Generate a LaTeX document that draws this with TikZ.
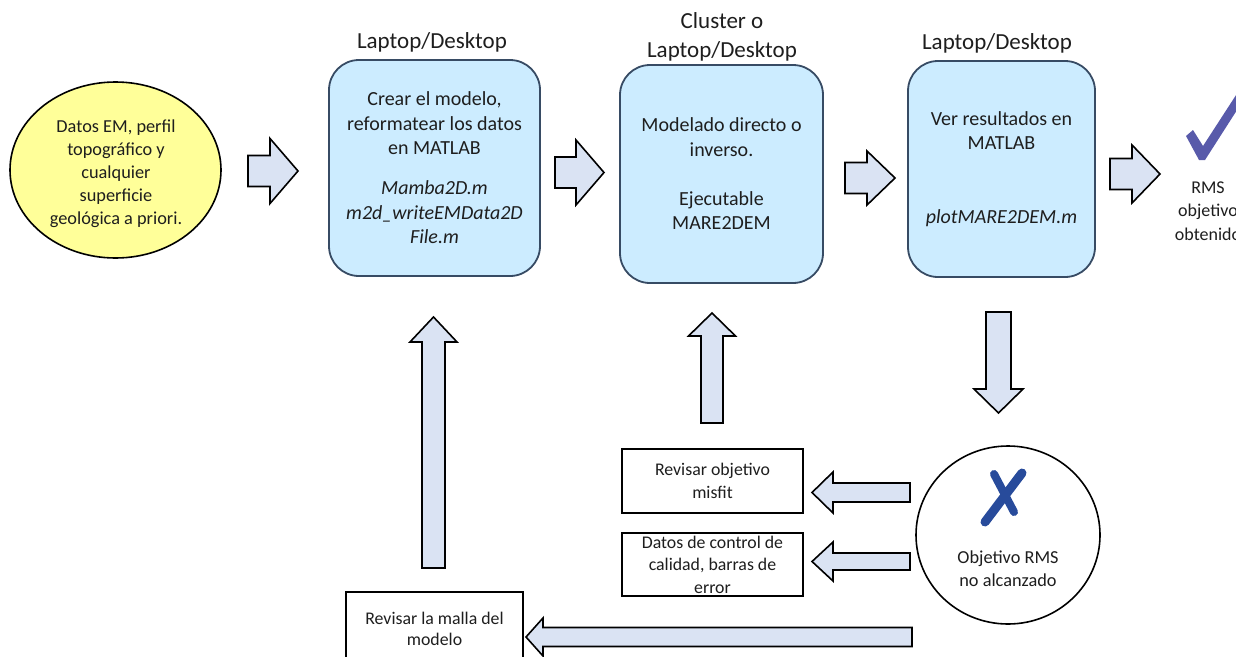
\documentclass[tikz,border=0pt]{standalone}
\usepackage{fontspec}
\setmainfont{Carlito}
\usetikzlibrary{shapes.geometric}
\definecolor{boxfill}{RGB}{204,236,255}
\definecolor{boxdraw}{RGB}{55,75,100}
\definecolor{ellfill}{RGB}{255,255,153}
\definecolor{arrfill}{RGB}{218,227,243}
\definecolor{checkc}{RGB}{88,90,170}
\definecolor{xmarkc}{RGB}{40,75,155}
\definecolor{txt}{RGB}{30,30,30}
% #1 tail coordinate name, #2 angle, #3 length, #4 body half, #5 head half, #6 head length
\newcommand{\blockarr}[6]{%
  \draw[blockarrow, shift={(#1)}, rotate=#2]
    (0,-#4) -- ({#3-#6},-#4) -- ({#3-#6},-#5) -- (#3,0) -- ({#3-#6},#5)
    -- ({#3-#6},#4) -- (0,#4) -- cycle;}
\begin{document}
\begin{tikzpicture}[x=1pt,y=-1pt,
  every node/.style={text=txt},
  bluebox/.style={draw=boxdraw, line width=1.8pt, fill=boxfill, rounded corners=30pt,
    align=center, inner sep=0pt, font=\fontsize{20}{24.5}\selectfont},
  plainbox/.style={draw=black, line width=1.6pt, fill=white, inner sep=0pt,
    align=center, font=\fontsize{17.8}{22.5}\selectfont},
  blockarrow/.style={draw=black, line width=1.6pt, fill=arrfill, line join=miter},
  toplabel/.style={font=\fontsize{23}{29}\selectfont, align=center, inner sep=0pt}]
\useasboundingbox (0,0) rectangle (1236,656);
\fill[white] (0,0) rectangle (1236,656);

% start ellipse
\node[ellipse, draw=black, line width=1.6pt, fill=ellfill, minimum width=211pt, minimum height=176pt,
  inner sep=0pt] (start) at (115.5,170) {};
\node[align=center, font=\fontsize{18.3}{23}\selectfont, inner sep=0pt] (starttxt) at (116,174)
  {Datos EM, perfil\\ topográfico y\\ cualquier\\ superficie\\ geológica a priori.};

% main boxes
\node[bluebox, minimum width=211pt, minimum height=216pt] (b1) at (434.5,168)
  {Crear el modelo,\\ reformatear los datos\\ en MATLAB\\[15.5pt]
   \textit{Mamba2D.m}\\ \textit{m2d\_writeEMData2D}\\ \textit{File.m}};
\node[bluebox, minimum width=203pt, minimum height=218pt] (b2) at (721.5,174)
  {Modelado directo o\\ inverso.\\[24.5pt] Ejecutable\\ MARE2DEM};
\node[bluebox, minimum width=187pt, minimum height=216pt] (b3) at (1001.5,169)
  {Ver resultados en\\ MATLAB\\[49pt] \textit{plotMARE2DEM.m}};

% labels above boxes
\node[toplabel] (l1) at (432,42) {Laptop/Desktop};
\node[toplabel] (l2) at (722,36.5) {Cluster o\\ Laptop/Desktop};
\node[toplabel] (l3) at (997,43) {Laptop/Desktop};

% success
\fill[checkc] (1186,136) -- (1193,130) -- (1203,146) -- (1238,92) -- (1246,96)
  -- (1205,160) -- (1199,160) -- cycle;
\node[align=center, font=\fontsize{18}{23.5}\selectfont, inner sep=0pt] (rms) at (1208,211)
  {RMS\\ objetivo\\ obtenido};

% failure circle
\node[ellipse, draw=black, line width=1.6pt, fill=white, minimum width=184pt, minimum height=178pt,
  inner sep=0pt] (fail) at (1008,535) {};
\draw[xmarkc, line width=9pt, line cap=round] (1022,473) -- (985,522);
\draw[xmarkc, line width=8pt, line cap=round] (994,474) -- (1014,512);
\node[align=center, font=\fontsize{18.3}{23}\selectfont, inner sep=0pt] (failtxt) at (1008,568.5)
  {Objetivo RMS\\ no alcanzado};

% feedback boxes
\node[plainbox, minimum width=181pt, minimum height=64pt] (ra) at (712.5,481)
  {Revisar objetivo\\ misfit};
\node[plainbox, minimum width=181pt, minimum height=63pt] (rb) at (712.5,564.5)
  {Datos de control de\\ calidad, barras de\\ error};
\node[plainbox, minimum width=177pt, minimum height=100pt] (rc) at (434.5,642) {};
\node[align=center, font=\fontsize{17.8}{20.5}\selectfont, inner sep=0pt] (rctxt) at (434.5,629)
  {Revisar la malla del\\ modelo};

% arrow tail coordinates
\coordinate (a1) at (248,171);
\coordinate (a2) at (555,172.5);
\coordinate (a3) at (845,178);
\coordinate (a4) at (1110,174);
\coordinate (d1) at (998.5,312);
\coordinate (u2) at (712,423);
\coordinate (u1) at (433.5,568);
\coordinate (f1) at (910,492.5);
\coordinate (f2) at (910,561.5);
\coordinate (f3) at (912,637);

\blockarr{a1}{0}{50}{15.5}{32.5}{28}
\blockarr{a2}{0}{49}{15.5}{32.5}{28}
\blockarr{a3}{0}{50}{15.5}{27}{28}
\blockarr{a4}{0}{50}{15.5}{29}{28}
\blockarr{d1}{-90}{101}{12.5}{24.5}{24}
\blockarr{u2}{90}{110}{11}{23.5}{23}
\blockarr{u1}{90}{251}{11.5}{23.5}{25}
\blockarr{f1}{180}{98}{9.5}{20.5}{21}
\blockarr{f2}{180}{98}{8.5}{19.5}{21}
\blockarr{f3}{180}{386}{9.5}{19}{17}
\end{tikzpicture}
\end{document}
